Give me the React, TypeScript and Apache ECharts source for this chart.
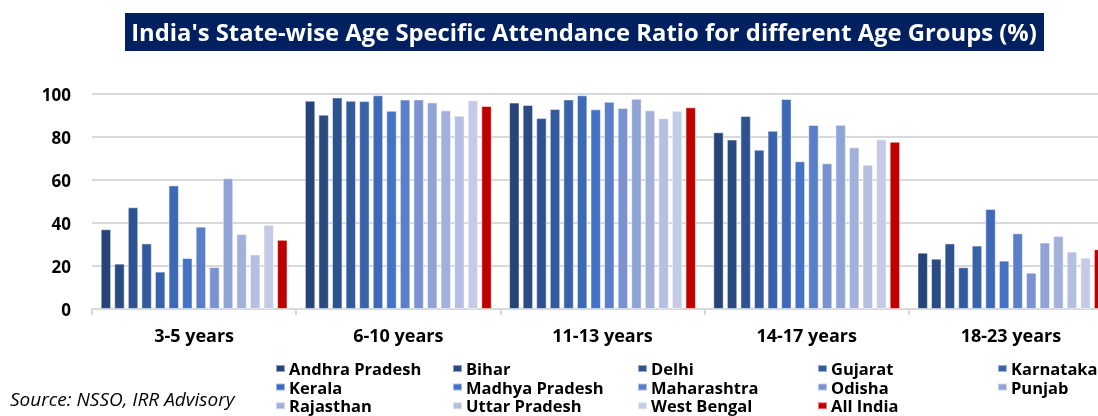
import React, { useEffect, useRef } from "react";
import * as echarts from "echarts";

const categories = ["3-5 years", "6-10 years", "11-13 years", "14-17 years", "18-23 years"];
const states = [
  "Andhra Pradesh", "Bihar", "Delhi", "Gujarat", "Karnataka",
  "Kerala", "Madhya Pradesh", "Maharashtra", "Odisha", "Punjab",
  "Rajasthan", "Uttar Pradesh", "West Bengal", "All India",
];
const andhraPradesh = [37.1, 96.9, 96.0, 82.2, 26.2];
const bihar = [21.1, 90.4, 94.9, 78.8, 23.4];
const delhi = [47.3, 98.4, 88.8, 89.8, 30.5];
const gujarat = [30.5, 96.9, 93.0, 74.1, 19.4];
const karnataka = [17.4, 96.7, 97.5, 82.9, 29.5];
const kerala = [57.5, 99.4, 99.4, 97.7, 46.5];
const madhyaPradesh = [23.7, 92.2, 92.9, 68.7, 22.5];
const maharashtra = [38.3, 97.4, 96.4, 85.6, 35.2];
const odisha = [19.5, 97.5, 93.5, 67.8, 16.9];
const punjab = [60.8, 96.1, 97.8, 85.7, 30.9];
const rajasthan = [34.9, 92.4, 92.4, 75.2, 34.0];
const uttarPradesh = [25.4, 89.9, 88.7, 67.1, 26.7];
const westBengal = [39.2, 97.1, 92.2, 78.9, 23.9];
const allIndia = [32.2, 94.4, 93.8, 77.8, 27.8];
const seriesValues = [
  andhraPradesh, bihar, delhi, gujarat, karnataka, kerala, madhyaPradesh,
  maharashtra, odisha, punjab, rajasthan, uttarPradesh, westBengal, allIndia,
];
const colors = [
  "#264478", "#2a4a82", "#2e528f", "#335a9d", "#3862aa", "#3d69b7", "#4472c4",
  "#5a7fc8", "#7a92cf", "#8fa3d6", "#a2b0da", "#b4bfe1", "#c5cbe6", "#c00000",
];
const yTicks = [0, 20, 40, 60, 80, 100];
const titleText = "India's State-wise Age Specific Attendance Ratio for different Age Groups (%)";
const sourceText = "Source: NSSO, IRR Advisory";

const legendLefts = [275, 452, 637, 817, 997];

export default function App() {
  const ref = useRef<HTMLDivElement>(null);
  useEffect(() => {
    if (!ref.current) return;
    const chart = echarts.init(ref.current, null, { renderer: "svg" });
    const font = "'Open Sans', 'Noto Sans', sans-serif";
    const legends = legendLefts.map((left, c) => ({
      orient: "vertical",
      left,
      top: 360,
      itemWidth: 9,
      itemHeight: 7,
      itemGap: 1.6,
      icon: "rect",
      padding: 0,
      data: [states[c], states[c + 5], states[c + 10]].filter(Boolean),
      textStyle: { fontFamily: font, fontWeight: "bold", fontSize: 16.5, lineHeight: 16, color: "#000", padding: [0, 0, 0, -1] },
    }));
    chart.setOption({
      animation: false,
      color: colors,
      grid: { left: 92, right: 7, top: 94, bottom: 107, containLabel: false },
      legend: legends,
      xAxis: {
        type: "category",
        data: categories,
        axisLine: { lineStyle: { color: "#d9d9d9", width: 2 } },
        axisTick: { show: true, length: 6, lineStyle: { color: "#d9d9d9", width: 2 } },
        axisLabel: { fontFamily: font, fontWeight: "bold", fontSize: 18, color: "#000", margin: 17 },
      },
      yAxis: {
        type: "value",
        min: yTicks[0],
        max: yTicks[yTicks.length - 1],
        interval: 20,
        axisLine: { show: false },
        axisTick: { show: false },
        axisLabel: { fontFamily: font, fontWeight: "bold", fontSize: 17, color: "#000", margin: 21 },
        splitLine: { lineStyle: { color: "#d9d9d9", width: 2 } },
      },
      series: states.map((name, i) => ({
        name,
        type: "bar",
        data: seriesValues[i],
        barGap: "30%",
        barCategoryGap: "8.5%",
        itemStyle: { color: colors[i], borderColor: "rgba(255,255,255,0.5)", borderWidth: 1 },
      })),
      graphic: [
        {
          type: "rect",
          left: 125,
          top: 13,
          shape: { width: 919, height: 38 },
          style: { fill: "#002060" },
        },
        {
          type: "text",
          x: 584,
          y: 32,
          style: {
            text: titleText,
            fill: "#fff",
            fontFamily: font,
            fontWeight: "bold",
            fontSize: 23.8,
            align: "center",
            verticalAlign: "middle",
          },
        },
        {
          type: "text",
          x: 10,
          y: 399,
          style: {
            text: sourceText,
            fill: "#000",
            fontFamily: font,
            fontStyle: "italic",
            fontSize: 19,
            align: "left",
            verticalAlign: "middle",
          },
        },
      ],
    });
    return () => chart.dispose();
  }, []);
  return (
    <div style={{ position: "fixed", left: 0, top: 0, width: 1098, height: 416, overflow: "hidden" }}>
      <div ref={ref} style={{ width: 1120, height: 416 }} />
    </div>
  );
}
